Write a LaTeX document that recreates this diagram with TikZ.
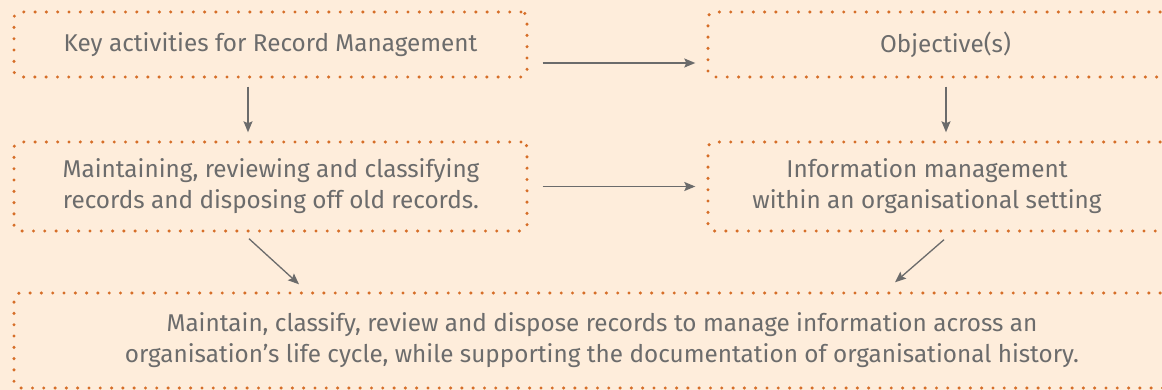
\documentclass[tikz,border=0pt]{standalone}
\usepackage{fontspec}
\setmainfont{Fira Sans}
\usetikzlibrary{arrows.meta}
\definecolor{paper}{HTML}{FEEDDB}
\definecolor{dotline}{HTML}{D66E28}
\definecolor{inktext}{HTML}{6C6C6C}
\definecolor{inkarrow}{HTML}{6B6B6B}
\begin{document}
\begin{tikzpicture}[x=1pt,y=-1pt,
  box/.style={draw=dotline, line width=3.4pt, dash pattern=on 0pt off 11.3pt,
    line cap=round, rounded corners=6pt, rectangle, inner sep=0pt},
  lbl/.style={text=inktext, font=\fontsize{24.3}{31}\selectfont, align=center, inner sep=0pt},
  flow/.style={draw=inkarrow, line width=1.3pt,
    -{Stealth[length=11pt,width=9pt,inset=2pt]}}
]
\fill[paper] (0,0) rectangle (1162,390);
\useasboundingbox (0,0) rectangle (1162,390);
\begin{scope}
\clip (0,0) rectangle (1162,390);
% dotted frames
\node[box, minimum width=513pt, minimum height=65pt] (b1) at (270.5,44.5) {};
\node[box, minimum width=492pt, minimum height=65pt] (b2) at (954,44.5) {};
\node[box, minimum width=513pt, minimum height=89pt] (b3) at (270.5,186.5) {};
\node[box, minimum width=492pt, minimum height=89pt] (b4) at (954,186.5) {};
\node[box, minimum width=1186pt, minimum height=95pt] (b5) at (607,340.5) {};
% texts
\node[lbl] (t1) at (270.5,44.5) {Key activities for Record Management};
\node[lbl] (t2) at (945.5,44.5) {Objective(s)};
\node[lbl] (t3) at (271,186.5) {Maintaining, reviewing and classifying\\records and disposing off old records.};
\node[lbl] (t4) at (927,186.5) {Information management\\within an organisational setting};
\node[lbl] (t5) at (602,340.5) {Maintain, classify, review and dispose records to manage information across an\\organisation’s life cycle, while supporting the documentation of organisational history.};
% connectors
\draw[flow] ([shift={(14,18.5)}]b1.east) -- ([shift={(-11,18.5)}]b2.west);
\draw[flow] ([xshift=14pt]b3.east) -- ([xshift=-11pt]b4.west);
\draw[flow] ([shift={(-22.5,8)}]b1.south) -- ([shift={(-22.5,-8)}]b3.north);
\draw[flow] ([shift={(-8,8)}]b2.south) -- ([shift={(-8,-8)}]b4.north);
\draw[flow] ([shift={(-21.5,6)}]b3.south) -- ([shift={(-308,-7)}]b5.north);
\draw[flow] ([shift={(-10,7)}]b4.south) -- ([shift={(288,-9)}]b5.north);
\end{scope}
\end{tikzpicture}
\end{document}
